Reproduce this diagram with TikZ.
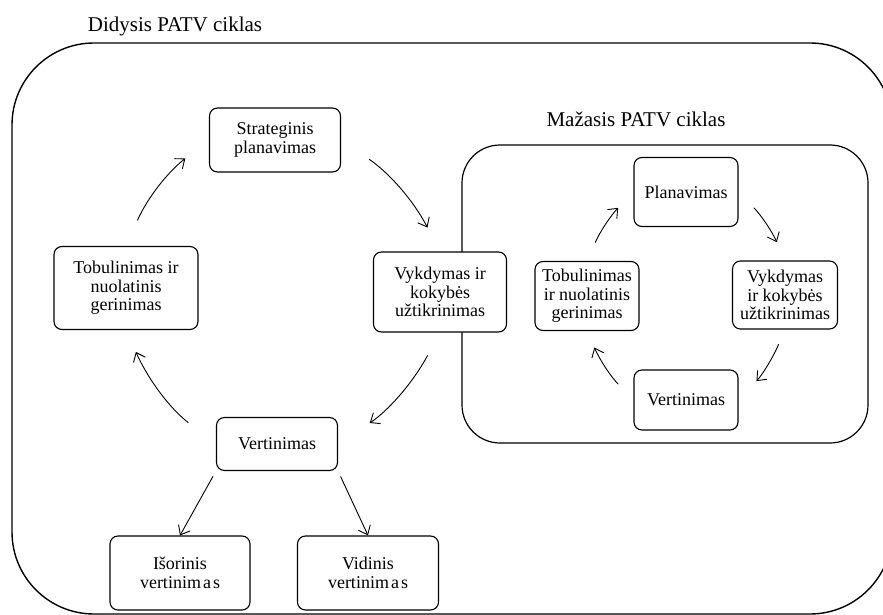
\documentclass[tikz,border=0pt]{standalone}
\usepackage{fontspec}
\setmainfont{Liberation Serif}
\usetikzlibrary{arrows.meta}
\begin{document}
\begin{tikzpicture}[x=1pt,y=-1pt,
  box/.style={draw, line width=1.1pt, rounded corners=8pt, align=center,
    inner sep=1pt, font=\fontsize{18}{18.5}\selectfont},
  frame/.style={draw, line width=1.4pt},
  title/.style={font=\fontsize{21}{24}\selectfont},
  arr/.style={-{Straight Barb[length=8pt,width=13pt]}, line width=0.9pt},
]
\useasboundingbox (0,0) rectangle (883,615);
\clip (0,0) rectangle (883,615);
% outer frame
\draw[frame, rounded corners=82pt] (12,43) rectangle (892,614);
\node[title] (t1) at (175,26) {Didysis PATV ciklas};
% inner frame
\draw[frame, line width=1.2pt, rounded corners=38pt] (462,145) rectangle (868,443);
\node[title] (t2) at (636,119) {Mažasis PATV ciklas};

% big cycle nodes
\node[box, minimum width=131pt, minimum height=64pt] (strat) at (275,140) {Strateginis\\planavimas};
\node[box, minimum width=144pt, minimum height=83pt] (tob) at (126,288) {Tobulinimas ir\\nuolatinis\\gerinimas};
\node[box, fill=white, minimum width=133pt, minimum height=80pt] (vyk) at (440,292) {Vykdymas ir\\kokybės\\užtikrinimas};
\node[box, minimum width=121pt, minimum height=53pt] (vert) at (277,444) {Vertinimas};
\node[box, minimum width=140pt, minimum height=74pt] (isor) at (180,573) {Išorinis\\vertinim\hspace{2pt}a\hspace{2pt}s};
\node[box, minimum width=141pt, minimum height=74pt] (vid) at (368,573) {Vidinis\\vertinim\hspace{2pt}a\hspace{2pt}s};

% small cycle nodes
\node[box, minimum width=104pt, minimum height=69pt] (plan) at (686,192) {Planavimas};
\node[box, minimum width=105pt, minimum height=68pt] (vyk2) at (785,295) {Vykdymas\\ir kokybės\\užtikrinimas};
\node[box, minimum width=104pt, minimum height=60pt] (vert2) at (686,400) {Vertinimas};
\node[box, minimum width=104pt, minimum height=69pt] (tob2) at (587,296) {Tobulinimas\\ir nuolatinis\\gerinimas};

% big cycle arrows
\draw[arr, shorten <=28pt, shorten >=30pt] (tob.north) to[bend left=14] (strat.west);
\draw[arr, shorten <=34pt, shorten >=27pt] (strat.east) to[bend left=14] (vyk.north);
\draw[arr, shorten <=26pt, shorten >=38pt] (vyk.south) to[bend left=14] (vert.east);
\draw[arr, shorten <=35pt, shorten >=24pt] (vert.west) to[bend left=14] (tob.south);
\draw[arr, shorten <=6pt] (vert.south west) -- (isor.north);
\draw[arr, shorten <=6pt] (vert.south east) -- (vid.north);

% small cycle arrows
\draw[arr, shorten <=20pt, shorten >=22pt] (tob2.north) to[bend left=10] (plan.west);
\draw[arr, shorten <=22pt, shorten >=20pt] (plan.east) to[bend left=10] (vyk2.north);
\draw[arr, shorten <=16pt, shorten >=26pt] (vyk2.south) to[bend left=10] (vert2.east);
\draw[arr, shorten <=22pt, shorten >=18pt] (vert2.west) to[bend left=10] (tob2.south);
\end{tikzpicture}
\end{document}
